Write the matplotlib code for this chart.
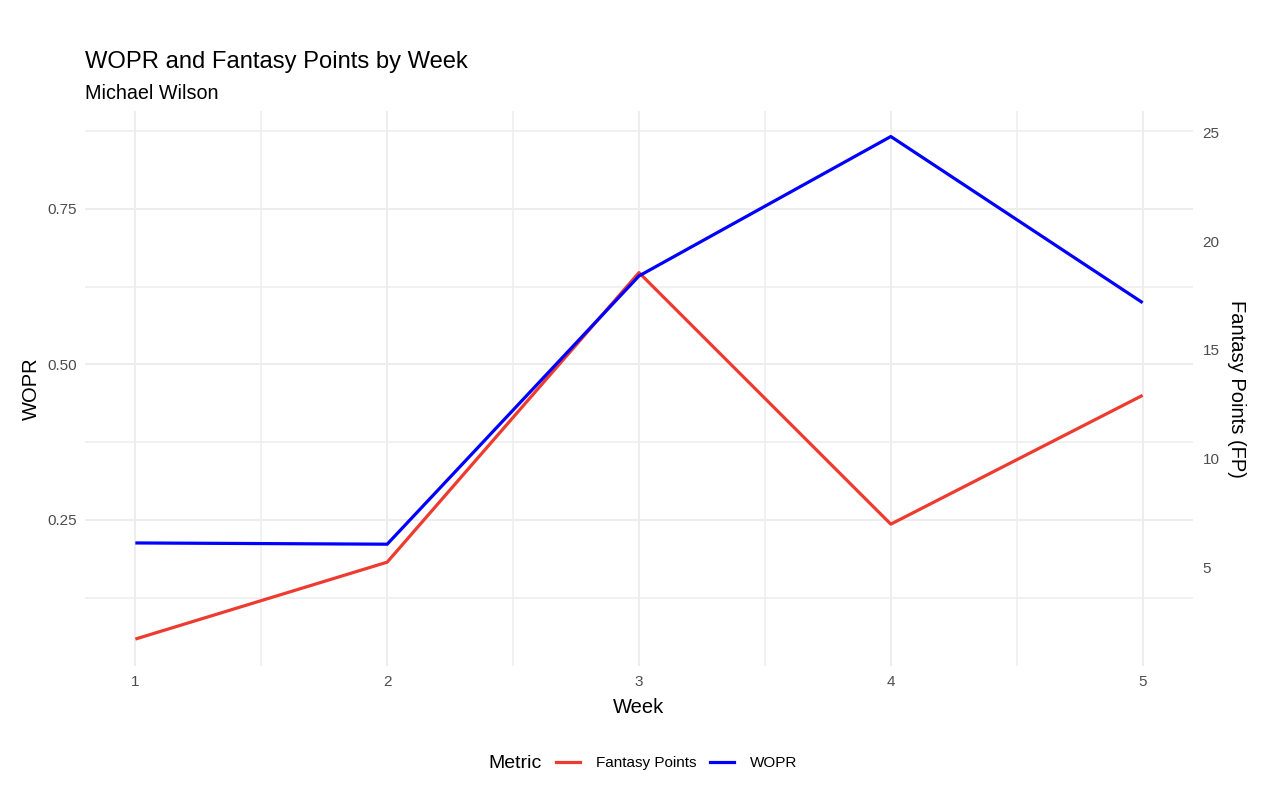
import matplotlib
matplotlib.use("Agg")
import matplotlib.pyplot as plt
from matplotlib.lines import Line2D

plt.rcParams['font.family'] = ['Liberation Sans', 'DejaVu Sans']

weeks = [1, 2, 3, 4, 5]
wopr = [0.213, 0.211, 0.642, 0.866, 0.599]
fantasy_points = [1.69, 5.23, 18.56, 6.98, 12.91]
wopr_ticks = [0.25, 0.50, 0.75]
wopr_minor = [0.125, 0.375, 0.625, 0.875]
fp_ticks = [5, 10, 15, 20, 25]
week_minor = [1.5, 2.5, 3.5, 4.5]

title = "WOPR and Fantasy Points by Week"
subtitle = "Michael Wilson"
red = "#EE3B2F"
blue = "#0000FF"
grid_col = "#EDEDED"
tick_col = "#4D4D4D"

fig = plt.figure(figsize=(12.8, 7.88), dpi=100)
ax = fig.add_axes([85/1280, 122/788, 1108/1280, 555/788])
ax.set_xlim(0.8, 5.2)
ax.set_ylim(0.0153, 0.907)

for s in ax.spines.values():
    s.set_visible(False)
ax.set_xticks(weeks)
ax.set_xticklabels([str(w) for w in weeks])
ax.set_xticks(week_minor, minor=True)
ax.set_yticks(wopr_ticks)
ax.set_yticklabels([f"{t:.2f}" for t in wopr_ticks])
ax.set_yticks(wopr_minor, minor=True)
ax.tick_params(which='both', length=0)
ax.tick_params(axis='y', which='major', labelsize=11, labelcolor=tick_col, pad=6)
ax.tick_params(axis='x', which='major', labelsize=11, labelcolor=tick_col, pad=6.5)
ax.grid(True, which='major', color=grid_col, linewidth=1.4)
ax.grid(True, which='minor', color=grid_col, linewidth=1.1)
ax.set_axisbelow(True)

ax.set_ylabel("WOPR", fontsize=14.5, color='black')
ax.yaxis.set_label_coords((31.5-85)/1108, 0.5)
ax.yaxis.label.set_va('center')
ax.set_xlabel("Week", fontsize=14.5, color='black')
ax.xaxis.set_label_coords(0.5, -(713-666)/555)
ax.xaxis.label.set_va('baseline')

# Fantasy points axis (right)
ax_fp = ax.twinx()
ax_fp.set_ylim(0.45, 26.0)
for s in ax_fp.spines.values():
    s.set_visible(False)
ax_fp.set_yticks(fp_ticks)
ax_fp.set_yticklabels([str(t) for t in fp_ticks])
ax_fp.tick_params(axis='y', length=0, labelsize=11, labelcolor=tick_col, pad=7)
ax_fp.plot(weeks, fantasy_points, color=red, linewidth=2.3, solid_capstyle='butt')
ax_fp.set_ylabel("Fantasy Points (FP)", fontsize=14.5, rotation=270, color='black')
ax_fp.yaxis.set_label_coords((1236-85)/1108, 0.5)
ax_fp.yaxis.label.set_va('center')

# WOPR line on top
ax_w = ax.twinx()
ax_w.set_ylim(ax.get_ylim())
ax_w.axis('off')
ax_w.plot(weeks, wopr, color=blue, linewidth=2.3, solid_capstyle='butt')

fig.text(85/1280, 1-68/788, title, fontsize=17.1, color='black', va='baseline', ha='left')
fig.text(85/1280, 1-99/788, subtitle, fontsize=14.2, color='black', va='baseline', ha='left')

fig.text(488/1280, 1-763/788, "Metric", fontsize=14, color='black', va='center', ha='left')
handles = [Line2D([], [], color=red, linewidth=2.3), Line2D([], [], color=blue, linewidth=2.3)]
fig.legend(handles, ["Fantasy Points", "WOPR"], loc='center left',
           bbox_to_anchor=(556/1280, 1-763/788), ncol=2, frameon=False,
           fontsize=11, handlelength=1.6, handletextpad=1.0, columnspacing=0.9,
           borderpad=0, borderaxespad=0, labelcolor='black')

fig.savefig("out.png", dpi=100, facecolor='white')
